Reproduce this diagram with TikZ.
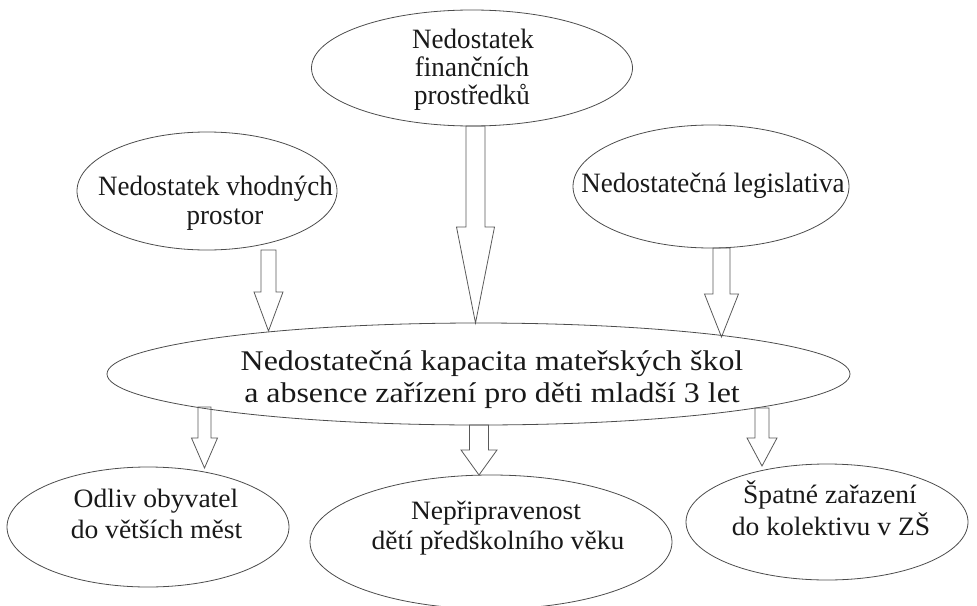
\documentclass[tikz,border=0pt]{standalone}
\usepackage{fontspec}
\setmainfont{Liberation Serif}
\newfontfamily\topfont[FakeStretch=0.965]{Liberation Serif}
\newfontfamily\midfont[FakeStretch=1.12]{Liberation Serif}
\newfontfamily\lowfont[FakeStretch=1.04]{Liberation Serif}
\usetikzlibrary{shapes.geometric}
\newcommand\blockarr[6]{%
  \draw[barrow] ({#1-#5},#2) -- ({#1-#5},#3) -- ({#1-#6},#3) -- (#1,#4)
    -- ({#1+#6},#3) -- ({#1+#5},#3) -- ({#1+#5},#2) -- cycle;}
\begin{document}
\begin{tikzpicture}[x=1pt,y=-1pt,
  ell/.style={draw=black!70, line width=0.8pt, ellipse, inner sep=0pt},
  lbl/.style={anchor=base, inner sep=0pt, text=black!90},
  big/.style={lbl, font=\topfont\fontsize{28}{32}\selectfont},
  main/.style={lbl, font=\midfont\fontsize{28.5}{32}\selectfont},
  low/.style={lbl, font=\lowfont\fontsize{26.5}{32}\selectfont},
  barrow/.style={draw=black!65, line width=0.8pt, line join=miter}]
\useasboundingbox (0,0) rectangle (977,605);
% ellipses
\node[ell, minimum width=321pt, minimum height=116pt] (fin) at (472,68) {};
\node[ell, minimum width=260pt, minimum height=118pt] (pros) at (207,191) {};
\node[ell, minimum width=276pt, minimum height=123pt] (leg) at (711,186.5) {};
\node[ell, minimum width=743pt, minimum height=102pt] (kap) at (478.5,374) {};
\node[ell, minimum width=282pt, minimum height=120pt] (odl) at (148,527) {};
\node[ell, minimum width=362pt, minimum height=134pt] (nep) at (491,542) {};
\node[ell, minimum width=282pt, minimum height=116pt] (spa) at (827,522) {};
% texts
\node[big] (fin1) at (473,48) {Nedostatek};
\node[big] (fin2) at (472,76) {finančních};
\node[big] (fin3) at (472,104) {prostředků};
\node[big] (pros1) at (215.5,195) {Nedostatek vhodných};
\node[big] (pros2) at (225,224) {prostor};
\node[big] (leg1) at (713,192) {Nedostatečná legislativa};
\node[main] (kap1) at (492,370) {Nedostatečná kapacita mateřských škol};
\node[main] (kap2) at (492,402) {a absence zařízení pro děti mladší 3 let};
\node[low] (odl1) at (156,507) {Odliv obyvatel};
\node[low] (odl2) at (156.5,538) {do větších měst};
\node[low] (nep1) at (496,519) {Nepřipravenost};
\node[low] (nep2) at (498,549) {dětí předškolního věku};
\node[low] (spa1) at (830,503) {Špatné zařazení};
\node[low] (spa2) at (831,535) {do kolektivu v ZŠ};
% block arrows
\blockarr{268.5}{250}{292}{331}{7.5}{14.5}
\blockarr{475.5}{126}{227}{323}{9.5}{19}
\blockarr{721.5}{248}{294}{337}{8.5}{17}
\blockarr{204.5}{407}{438}{468}{6.5}{13}
\blockarr{479}{425}{450}{475}{9.5}{18}
\blockarr{762}{408}{438}{466}{7}{15}
\end{tikzpicture}
\end{document}
